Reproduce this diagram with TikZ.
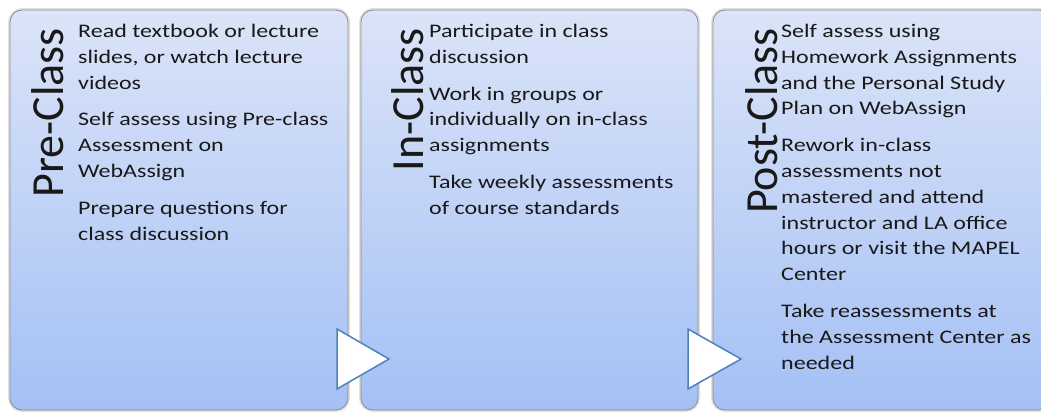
\documentclass[tikz,border=0pt]{standalone}
\usepackage{fontspec}
\newfontfamily\headfont{Carlito}
\newfontfamily\bodyfont[FakeStretch=1.25]{Carlito}
\usetikzlibrary{positioning}
\definecolor{panelTop}{RGB}{219,228,248}
\definecolor{panelBottom}{RGB}{164,192,245}
\definecolor{chevronBlue}{RGB}{79,129,189}

\begin{document}
\begin{tikzpicture}[x=1pt, y=1pt,
                panel/.style={rectangle, rounded corners=12pt, draw=black!45, line width=0.8pt, top color=panelTop, bottom color=panelBottom, minimum width=338pt, minimum height=400pt, preaction={draw=black!12, line width=4pt}},
                heading/.style={rotate=90, anchor=base east, inner sep=0pt, font=\headfont\fontsize{46}{46}\selectfont, text=black!90},
                notes/.style={anchor=north west, inner sep=0pt, align=left, font=\bodyfont\fontsize{19.2}{25.8}\selectfont, text=black!90},
                chevron/.style={draw=chevronBlue, fill=white, line width=1.5pt, line join=miter}
            ]
            \useasboundingbox (0,0) rectangle (1041,415);
            \clip (0,0) rectangle (1041,415);

            % Panels
            \node[panel] (pre) at (179,205) {};
            \node[panel, minimum width=337pt] (inclass) at (529.5,205) {};
            \node[panel] (post) at (882,205) {};

            % Arrows between the phases
            \draw[chevron] (337,86) -- (389,56) -- (337,26) -- cycle;
            \draw[chevron] (688,86) -- (741,56) -- (688,26) -- cycle;

            % Headings
            \node[heading] (preT) at (63,387) {Pre-Class};
            \node[heading] (inT) at (423,387) {In-Class};
            \node[heading] (postT) at (777,387) {Post-Class};

            % Tasks
            \node[notes] (preN) at (78,391) {Read textbook or lecture\\slides, or watch lecture\\videos\\[11pt]Self assess using Pre-class\\Assessment on\\WebAssign\\[11pt]Prepare questions for\\class discussion};
            \node[notes] (inN) at (429,391) {Participate in class\\discussion\\[11pt]Work in groups or\\individually on in-class\\assignments\\[11pt]Take weekly assessments\\of course standards};
            \node[notes] (postN) at (781,391) {Self assess using\\Homework Assignments\\and the Personal Study\\Plan on WebAssign\\[11pt]Rework in-class\\assessments not\\mastered and attend\\instructor and LA office\\hours or visit the MAPEL\\Center\\[11pt]Take reassessments at\\the Assessment Center as\\needed};
            \end{tikzpicture}
\end{document}
